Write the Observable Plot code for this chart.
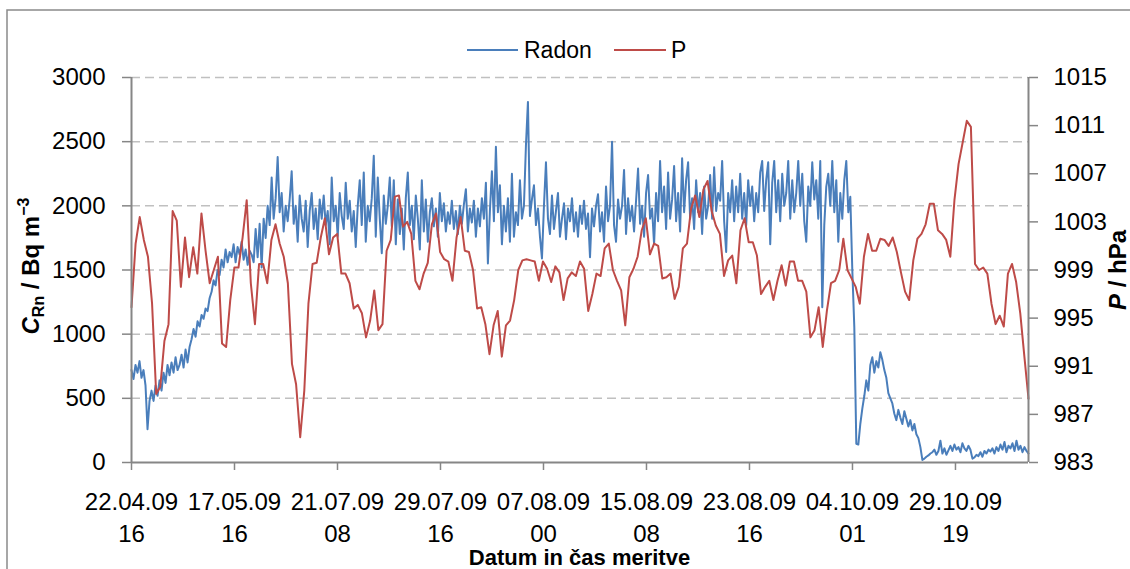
<!DOCTYPE html>
<html>
<head>
<meta charset="utf-8">
<script src="https://cdn.jsdelivr.net/npm/d3@7"></script>
<script src="https://cdn.jsdelivr.net/npm/@observablehq/plot@0.6"></script>
<style>
  body { margin: 0; background: #fff; }
  #wrap { position: relative; width: 1130px; height: 569px; overflow: hidden; background: #fff; }
  #wrap svg { position: absolute; left: 0; top: 0; }
</style>
</head>
<body>
<div id="wrap"></div>
<script>
// ---------- data ----------
const xTickLabels = ["22.04.09\n16", "17.05.09\n16", "21.07.09\n08", "29.07.09\n16", "07.08.09\n00",
                     "15.08.09\n08", "23.08.09\n16", "04.10.09\n01", "29.10.09\n19"];
const xSpan = 8.709; // plotted span, in units of label intervals

const seriesNames = ["Radon", "P"];
const seriesColors = ["#4a7ebb", "#be4b48"];

const radon = [
720,650,760,700,790,660,720,600,260,480,
560,480,600,520,640,560,700,620,760,680,
780,700,820,720,760,840,740,880,780,900,
960,1040,980,1100,1060,1150,1120,1200,1180,1280,
1330,1420,1380,1500,1460,1580,1520,1660,1560,1640,
1600,1700,1560,1680,1620,1720,1580,1660,1540,1650,
1620,1560,1820,1600,1860,1520,1900,1750,2000,1850,
2220,1900,2060,2380,1950,2100,1800,2000,1880,2050,
2270,1860,2000,1720,2080,1900,1800,2040,1680,1960,
2100,1820,1980,1740,2050,1900,2080,1850,1960,1700,
2220,1880,2000,1760,2100,1920,1820,2180,1900,2040,
1800,1960,1680,2000,2200,1850,2260,1720,2000,1880,
2060,2390,1760,2220,1900,1630,2080,1860,2000,2220,
1840,2200,1700,2050,1780,1980,1660,2060,2260,1850,
2000,1740,2080,1900,1660,2200,1800,2050,1720,1950,
2060,1840,1980,1760,2100,1880,2020,1800,1950,1860,
2040,1820,1960,1780,2000,1860,2010,2130,1800,1980,
1870,2040,1760,1980,1840,2060,1900,2180,1550,1960,
2270,1880,2460,1950,2160,1700,2000,1800,2060,1720,
2250,1760,1950,1850,2200,1900,2000,2470,2810,1920,
2050,2160,1850,1980,1760,1590,2000,2340,1900,1780,
2080,1820,1960,2100,1760,1900,2020,1740,1980,1880,
2060,1800,1950,1760,2000,1860,2040,1820,1940,1600,
1980,1840,2000,2090,1800,1950,1720,2150,1880,2000,
2500,1850,1720,2050,1900,2000,2280,1780,2060,1880,
2000,1800,2040,2290,1860,2000,1760,2100,2240,1900,
1980,1700,2100,1880,2350,1950,2150,1820,2260,1900,
2050,2310,1880,2100,1800,2370,1950,2200,2340,1900,
2060,1820,2200,1950,2100,1780,2150,1900,2000,2240,
1900,2300,1960,2100,2040,2350,1880,1640,2100,1950,
2200,1880,2150,1950,2250,1900,2100,1850,2200,2000,
2150,1880,2100,1950,2260,2350,1960,2200,2340,1700,
2180,2350,1950,2200,1880,2250,2000,2100,2350,1900,
2200,1950,2100,2350,2000,2250,1880,1720,2150,2000,
2340,2050,2200,1900,2350,1210,1850,2150,2250,2000,
2350,1950,2200,1720,2100,1900,2200,2350,1950,2070,
1500,1055,146,140,300,420,520,640,560,760,
820,700,790,740,860,800,720,660,540,500,
460,380,330,410,350,300,400,340,280,330,
250,300,220,190,120,20,30,45,55,70,
80,100,60,90,170,70,110,60,95,130,
90,140,100,120,80,150,110,90,130,100,
30,40,60,50,80,45,90,70,100,85,
110,70,120,90,140,100,160,80,130,110,
150,90,170,100,130,80,120,90,70
];

const pressure = [
995.9,1001.2,1003.4,1001.5,1000.1,996.2,988.7,989.3,993.1,994.5,
1003.9,1003.1,997.6,1001.7,998.4,1000.9,998.7,1003.7,1000.6,997.9,
999.0,1000.1,992.9,992.6,996.5,999.2,999.2,1001.7,1004.8,997.9,
994.5,999.5,999.5,997.9,1001.5,1002.8,1001.2,1000.1,997.9,991.2,
989.5,985.1,989.0,996.2,999.5,999.6,1001.7,1003.3,1000.3,1001.7,
1002.0,998.7,998.7,997.9,995.8,996.1,995.4,993.4,994.8,997.3,
994.0,994.5,1000.6,1001.5,1005.1,1005.2,1002.6,1003.0,1002.0,998.1,
997.4,998.7,999.6,
1002.8,1003.7,1000.5,999.9,999.7,998.1,1001.7,
1003.4,1000.6,1000.5,999.0,995.8,995.9,994.5,992.0,994.4,995.6,
991.8,994.4,994.8,996.5,999.0,999.8,999.9,999.8,999.7,998.1,
999.7,999.1,998.0,999.3,998.8,996.5,998.3,998.8,998.5,999.7,
999.1,995.6,997.0,998.7,998.5,1000.8,1001.2,999.0,998.1,997.3,
994.4,998.4,999.1,1000.1,1002.3,1003.3,1000.3,1001.2,1001.0,998.3,
998.4,998.7,996.6,997.6,1000.8,1001.2,1004.1,1005.2,1003.4,1005.7,
1006.4,1003.9,1002.7,1002.0,998.5,
999.8,1000.2,997.9,1002.3,1003.3,
1001.3,1001.3,1000.2,997.0,997.6,998.1,996.5,998.1,999.4,997.7,
999.7,999.7,998.1,998.1,997.2,993.4,994.0,995.9,992.6,995.6,
997.9,998.1,999.0,1001.6,999.0,998.3,997.6,996.2,1000.1,1002.0,
1000.6,1000.6,1001.6,1001.5,1001.0,1001.7,1000.5,998.8,997.2,996.5,
999.8,1001.6,1002.0,1002.8,1004.5,1004.5,1002.3,1002.0,1001.5,1000.1,
1004.8,1007.8,1009.6,1011.4,1010.9,999.5,999.0,999.2,998.7,996.2,
994.5,995.2,994.3,998.7,999.5,998.0,995.4,991.8,988.3
];

const leftTicks = [0, 500, 1000, 1500, 2000, 2500, 3000];
const rightTicks = [983, 987, 991, 995, 999, 1003, 1007, 1011, 1015];

// ---------- helpers ----------
const FONT = "'Liberation Sans', Arial, Helvetica, sans-serif";
const AXIS = "#868686";
const GRID = "#c0c0c0";
const yMax = leftTicks[leftTicks.length - 1];
const pMin = rightTicks[0], pMax = rightTicks[rightTicks.length - 1];
const pToLeft = p => (p - pMin) * yMax / (pMax - pMin);
const leftToP = v => v * (pMax - pMin) / yMax + pMin;

const radonData = radon.map((v, i) => ({x: i * xSpan / (radon.length - 1), v}));
const pressData = pressure.map((p, j) => ({x: j * xSpan / (pressure.length - 1), v: pToLeft(p)}));

const chart = Plot.plot({
  width: 1130,
  height: 569,
  marginLeft: 131,
  marginRight: 102,
  marginTop: 77,
  marginBottom: 107,
  x: {domain: [0, xSpan]},
  y: {domain: [0, yMax]},
  style: {fontFamily: FONT, fontSize: "24px", color: "#000", background: "transparent", overflow: "visible"},
  marks: [
    Plot.ruleY(leftTicks.filter(d => d > 0), {stroke: GRID, strokeWidth: 1.5, strokeDasharray: "9,5"}),
    Plot.line(radonData, {x: "x", y: "v", stroke: seriesColors[0], strokeWidth: 2}),
    Plot.line(pressData, {x: "x", y: "v", stroke: seriesColors[1], strokeWidth: 2}),
    Plot.ruleX([0], {y1: 0, y2: yMax, stroke: AXIS, strokeWidth: 2}),
    Plot.ruleX([xSpan], {y1: 0, y2: yMax, stroke: AXIS, strokeWidth: 2}),
    Plot.ruleY([0], {x1: 0, x2: xSpan, stroke: AXIS, strokeWidth: 2}),
    Plot.axisY({anchor: "left", ticks: leftTicks, tickFormat: d => String(d), tickSize: 9, tickPadding: 17,
                stroke: AXIS, strokeWidth: 1.5, fill: "#000", label: null}),
    Plot.axisY({anchor: "right", ticks: rightTicks.map(pToLeft), tickFormat: d => String(Math.round(leftToP(d))),
                tickSize: 9, tickPadding: 16, stroke: AXIS, strokeWidth: 1.5, fill: "#000", label: null}),
    Plot.axisX({ticks: d3.range(xTickLabels.length), tickFormat: i => xTickLabels[Math.round(i)],
                tickSize: 8, tickPadding: 17, lineHeight: 1.33, stroke: AXIS, strokeWidth: 1.5, fill: "#000", label: null})
  ]
});

const wrap = document.getElementById("wrap");
wrap.appendChild(chart);

// ---------- overlay: border, legend, axis titles ----------
const ov = d3.select(wrap).append("svg")
  .attr("width", 1130).attr("height", 569)
  .style("pointer-events", "none")
  .style("font-family", FONT);

ov.append("rect").attr("x", 7).attr("y", 10).attr("width", 1200).attr("height", 700)
  .attr("fill", "none").attr("stroke", "#8a8a8a").attr("stroke-width", 1.5);

// legend
const legendPos = [{x1: 467, x2: 518, tx: 524}, {x1: 614, x2: 666, tx: 671}];
seriesNames.forEach((name, k) => {
  const p = legendPos[k];
  ov.append("line").attr("x1", p.x1).attr("x2", p.x2).attr("y1", 50).attr("y2", 50)
    .attr("stroke", seriesColors[k]).attr("stroke-width", 2);
  ov.append("text").attr("x", p.tx).attr("y", 58).attr("font-size", 23).attr("fill", "#000").text(name);
});

// left title
const lt = ov.append("text").attr("transform", "translate(39,266) rotate(-90)")
  .attr("text-anchor", "middle").attr("font-size", 24).attr("font-weight", "bold").attr("fill", "#000");
lt.append("tspan").attr("font-style", "italic").text("C");
lt.append("tspan").attr("font-size", 16).attr("dy", 5).text("Rn");
lt.append("tspan").attr("dy", -5).text(" / Bq m");
lt.append("tspan").attr("font-size", 16).attr("dy", -10).text("\u22123");

// right title
const rt = ov.append("text").attr("transform", "translate(1126,270) rotate(-90)")
  .attr("text-anchor", "middle").attr("font-size", 24).attr("font-weight", "bold").attr("fill", "#000");
rt.append("tspan").attr("font-style", "italic").text("P");
rt.append("tspan").text(" / hPa");

// x title
ov.append("text").attr("x", 579.5).attr("y", 565).attr("text-anchor", "middle")
  .attr("font-size", 22).attr("font-weight", "bold").attr("fill", "#000").text("Datum in \u010das meritve");
</script>
</body>
</html>
